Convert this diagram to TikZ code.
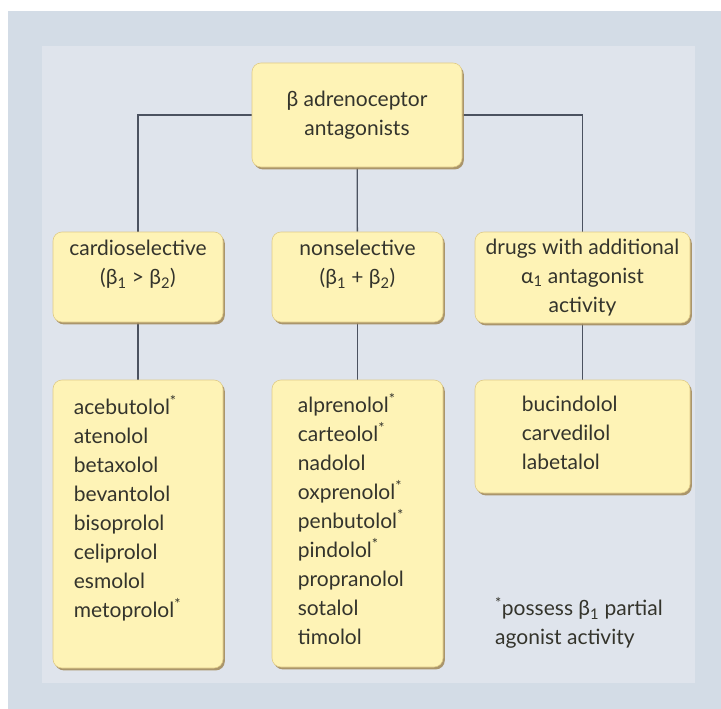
\documentclass[tikz,border=0pt]{standalone}
\usepackage{fontspec}
\setmainfont{Lato}
\usetikzlibrary{shadows,backgrounds}

\definecolor{frameBlue}{HTML}{D3DCE6}
\definecolor{panelBlue}{HTML}{DFE4EC}
\definecolor{boxYellow}{HTML}{FEF3B6}
\definecolor{boxEdge}{HTML}{E0CB86}
\definecolor{boxShade}{HTML}{A58D5E}
\definecolor{wireGray}{HTML}{4B5260}
\definecolor{inkGray}{HTML}{34342C}

\begin{document}
\begin{tikzpicture}[x=1pt,y=-1pt,
		drugbox/.style={draw=boxEdge, line width=0.6pt, fill=boxYellow, rounded corners=9pt, inner sep=0pt,
			drop shadow={shadow xshift=1.8pt, shadow yshift=-2.4pt, fill=boxShade, opacity=0.9}},
		boxtext/.style={text=inkGray, font=\fontsize{21}{29}\selectfont, align=center},
		listtext/.style={boxtext, align=left, anchor=north west, inner sep=0pt},
		wire/.style={draw=wireGray, line width=1.3pt}]
		\useasboundingbox (0,0) rectangle (721,709);

		% Marker for drugs that are partial agonists.
		\newcommand{\partAg}{\textsuperscript{*}}

		% TOP OF THE TREE
		\node[drugbox, boxtext, minimum width=210, minimum height=104] (antag) at (357,115)
			{β adrenoceptor\\antagonists};

		% CLASSES (third empty line keeps the text at the top)
		\node[drugbox, boxtext, minimum width=170, minimum height=90] (cardio) at (138,277)
			{cardioselective\\(β\textsubscript{1} > β\textsubscript{2})\\\mbox{}};
		\node[drugbox, boxtext, minimum width=171, minimum height=90] (nonsel) at (357.5,277)
			{nonselective\\(β\textsubscript{1} + β\textsubscript{2})\\\mbox{}};
		\node[drugbox, boxtext, minimum width=215, minimum height=91] (alpha) at (582.5,277.5)
			{drugs with additional\\α\textsubscript{1} antagonist\\activity};

		% DRUG LISTS
		\node[drugbox, minimum width=170, minimum height=288] (cardioList) at (138,524) {};
		\node[drugbox, minimum width=171, minimum height=287] (nonselList) at (357.5,523.5) {};
		\node[drugbox, minimum width=215, minimum height=113] (alphaList) at (582.5,436.5) {};

		\node[listtext] (cardioNames) at ([xshift=21pt, yshift=-16pt]cardioList.north west)
			{acebutolol\partAg\\atenolol\\betaxolol\\bevantolol\\bisoprolol\\celiprolol\\esmolol\\metoprolol\partAg};
		\node[listtext] (nonselNames) at ([xshift=26pt, yshift=-14pt]nonselList.north west)
			{alprenolol\partAg\\carteolol\partAg\\nadolol\\oxprenolol\partAg\\penbutolol\partAg\\pindolol\partAg\\propranolol\\sotalol\\timolol};
		\node[listtext] (alphaNames) at ([xshift=47pt, yshift=-16pt]alphaList.north west)
			{bucindolol\\carvedilol\\labetalol};

		% Footnote
		\node[listtext] (footNote) at (495,597)
			{\partAg possess β\textsubscript{1} partial\\agonist activity};

		\begin{scope}[on background layer]
			% panels
			\fill[frameBlue] (8,11) rectangle (721,709);
			\fill[panelBlue] (42,46) rectangle (695,683);

			% connectors
			\draw[wire] (antag.west) -| (cardio.north);
			\draw[wire] (antag.east) -| (alpha.north);
			\draw[wire] (antag) -- (nonsel);
			\foreach \up/\down in {cardio/cardioList, nonsel/nonselList, alpha/alphaList}{
				\draw[wire] (\up) -- (\down);
			}
		\end{scope}

	\end{tikzpicture}
\end{document}
